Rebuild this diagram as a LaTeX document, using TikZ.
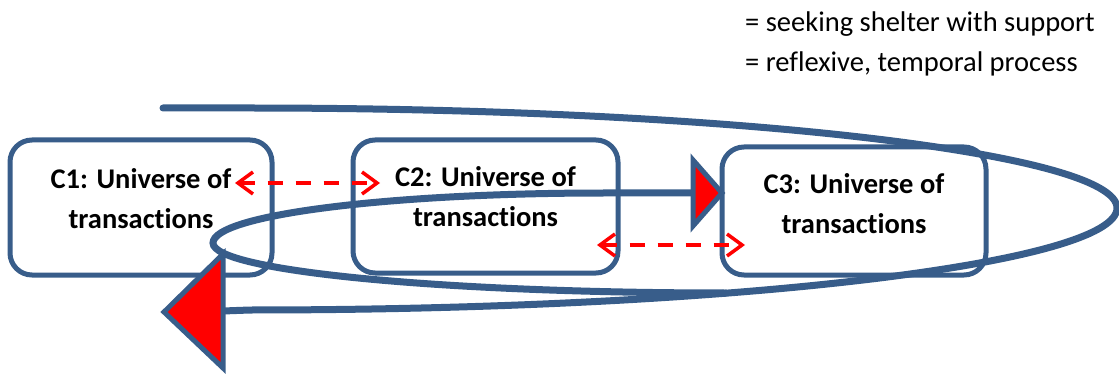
\documentclass[tikz,border=0pt]{standalone}
\usepackage{fontspec}
\setmainfont{Carlito}[Ligatures=NoCommon,RawFeature={-liga}]
\usetikzlibrary{arrows.meta}
\definecolor{navyline}{RGB}{56,93,138}
\begin{document}
\begin{tikzpicture}[x=1pt,y=-1pt,
  box/.style={draw=navyline,line width=5pt,rounded corners=22pt,fill=white,inner sep=0pt},
  lbl/.style={font=\bfseries\fontsize{28.5}{40}\selectfont,align=center,inner sep=0pt},
  legendtext/.style={font=\fontsize{28.5}{34}\selectfont,inner sep=0pt,anchor=base west},
  curve/.style={draw=navyline,line width=7pt,line cap=round},
  tri/.style={fill=red,draw=navyline,line width=5pt,line join=miter},
  dasharrow/.style={red,line width=3.5pt,dash pattern=on 15pt off 13pt,
    {Straight Barb[length=15pt,width=22pt]}-{Straight Barb[length=15pt,width=22pt]}}]
\useasboundingbox (0,0) rectangle (1119,374);
% boxes
\node[box,minimum width=262pt,minimum height=135pt] (c1) at (141,207.5) {};
\node[box,minimum width=265pt,minimum height=133pt] (c2) at (485.5,206.5) {};
\node[box,minimum width=264pt,minimum height=128pt] (c3) at (854,211) {};
% legend
\node[legendtext] (lg1) at (745,32) {= seeking shelter with support};
\node[legendtext] (lg2) at (745,72) {= reflexive, temporal process};
% spiral coordinates
\coordinate (s0) at (163,108);
\coordinate (s1) at (250,108);
\coordinate (rt) at (1117,208);
\coordinate (bl) at (250,310);
\coordinate (bigbase) at (223,311);
\coordinate (bigtip) at (164,312);
\coordinate (br) at (726,293);
\coordinate (il) at (213,243);
\coordinate (iu) at (604,193);
\coordinate (smbase) at (693,193);
\coordinate (smtip) at (722,193);
% outer loop
\draw[curve] (s0) -- (s1) .. controls (729,108) and (1117,153) .. (rt)
  .. controls (1117,264) and (729,310) .. (bl) -- (bigbase);
% inner loop
\draw[curve] (br) .. controls (443,293) and (213,271) .. (il)
  .. controls (213,215) and (388,193) .. (iu) -- (smbase);
% arrow heads
\filldraw[tri] (bigtip) -- (223,254) -- (223,368) -- cycle;
\filldraw[tri] (smtip) -- (693,160) -- (693,226) -- cycle;
% labels
\node[lbl] (c1t) at (141,199) {C1: Universe of\\transactions};
\node[lbl] (c2t) at (485.5,197) {C2: Universe of\\transactions};
\node[lbl] (c3t) at (854,204) {C3: Universe of\\transactions};
% dashed arrows
\coordinate (d1a) at (235,183);
\coordinate (d1b) at (380,183);
\coordinate (d2a) at (597,245);
\coordinate (d2b) at (745,245);
\draw[dasharrow] (d1a) -- (d1b);
\draw[dasharrow] (d2a) -- (d2b);
\end{tikzpicture}
\end{document}
